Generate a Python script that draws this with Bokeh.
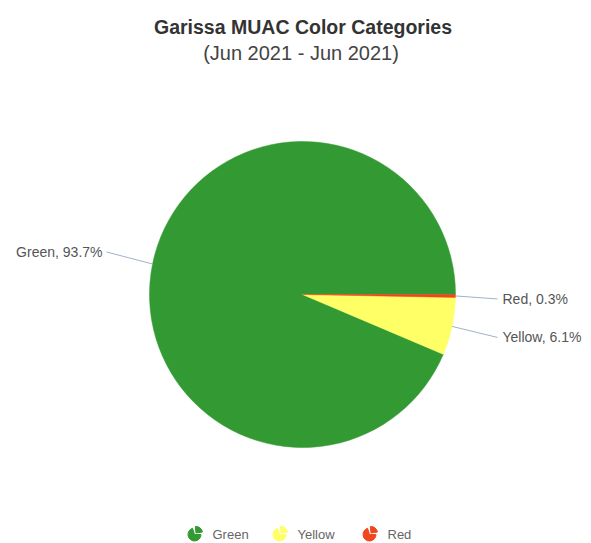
import math
from bokeh.plotting import figure
from bokeh.models import ColumnDataSource
from bokeh.core.properties import value
from bokeh.embed import file_html
from bokeh.resources import INLINE

# ---- data ----
categories = ["Green", "Yellow", "Red"]
percentages = [93.7, 6.1, 0.3]
colors = ["#339a33", "#ffff66", "#f0461e"]
title = "Garissa MUAC Color Categories"
subtitle = "(Jun 2021 - Jun 2021)"

W, H = 591, 543
p = figure(width=W, height=H, x_range=(0, W), y_range=(0, H),
           output_backend="svg", toolbar_location=None, min_border=0)
p.axis.visible = False
p.grid.visible = False
p.outline_line_color = None
p.background_fill_color = "white"
p.border_fill_color = "white"

FONT = value("Liberation Sans")

def sy(y):  # screen y to data y
    return H - y

cx, cy, r = 302, sy(294), 153
total = sum(percentages)
starts, ends, mids = [], [], []
acc = 0.0
for v in percentages:
    a0 = acc / total * 2 * math.pi
    acc += v
    a1 = acc / total * 2 * math.pi
    starts.append(a0); ends.append(a1); mids.append((a0 + a1) / 2)

src = ColumnDataSource(dict(start=starts, end=ends, color=colors))
p.wedge(x=cx, y=cy, radius=r, start_angle="start", end_angle="end",
        fill_color="color", line_color="color", line_width=0.5, source=src)

# labels with connectors (layout offsets, per category order)
label_dy = [12, -11, -3]
for i, cat in enumerate(categories):
    ex = cx + r * math.cos(mids[i])
    ey = cy + r * math.sin(mids[i])
    ly = ey + label_dy[i]
    if math.cos(mids[i]) < 0:
        lx = cx - r - 47
        al = "right"
        p.line([ex, lx + 4], [ey, ly], line_color="#9fb3c8", line_width=1)
    else:
        lx = cx + r + 47
        al = "left"
        p.line([ex, lx - 5], [ey, ly], line_color="#9fb3c8", line_width=1)
    p.text(x=[lx], y=[ly], text=[f"{cat}, {percentages[i]}%"],
           text_font=FONT, text_font_size="14px", text_color="#555555",
           text_align=al, text_baseline="middle")

# title / subtitle
p.text(x=[W / 2 + 7], y=[sy(26)], text=[title], text_font=FONT,
       text_font_size="19.5px", text_font_style="bold", text_color="#333333",
       text_align="center", text_baseline="middle")
p.text(x=[W / 2 + 5], y=[sy(52)], text=[subtitle], text_font=FONT,
       text_font_size="20px", text_color="#444444",
       text_align="center", text_baseline="middle")

# legend (custom pie icons)
leg_x = [194, 279, 369]
leg_y = sy(534)
for i, cat in enumerate(categories):
    p.wedge(x=leg_x[i], y=leg_y, radius=6.5, start_angle=math.pi / 2 + 0.3,
            end_angle=2 * math.pi, fill_color=colors[i], line_color=colors[i])
    p.wedge(x=leg_x[i] + 1.5, y=leg_y + 1.5, radius=6.5, start_angle=0.15,
            end_angle=math.pi / 2 + 0.1, fill_color=colors[i], line_color=colors[i])
    p.text(x=[leg_x[i] + 18], y=[leg_y], text=[cat], text_font=FONT,
           text_font_size="13px", text_color="#666666",
           text_align="left", text_baseline="middle")

open("out.html", "w").write(file_html(p, INLINE))
